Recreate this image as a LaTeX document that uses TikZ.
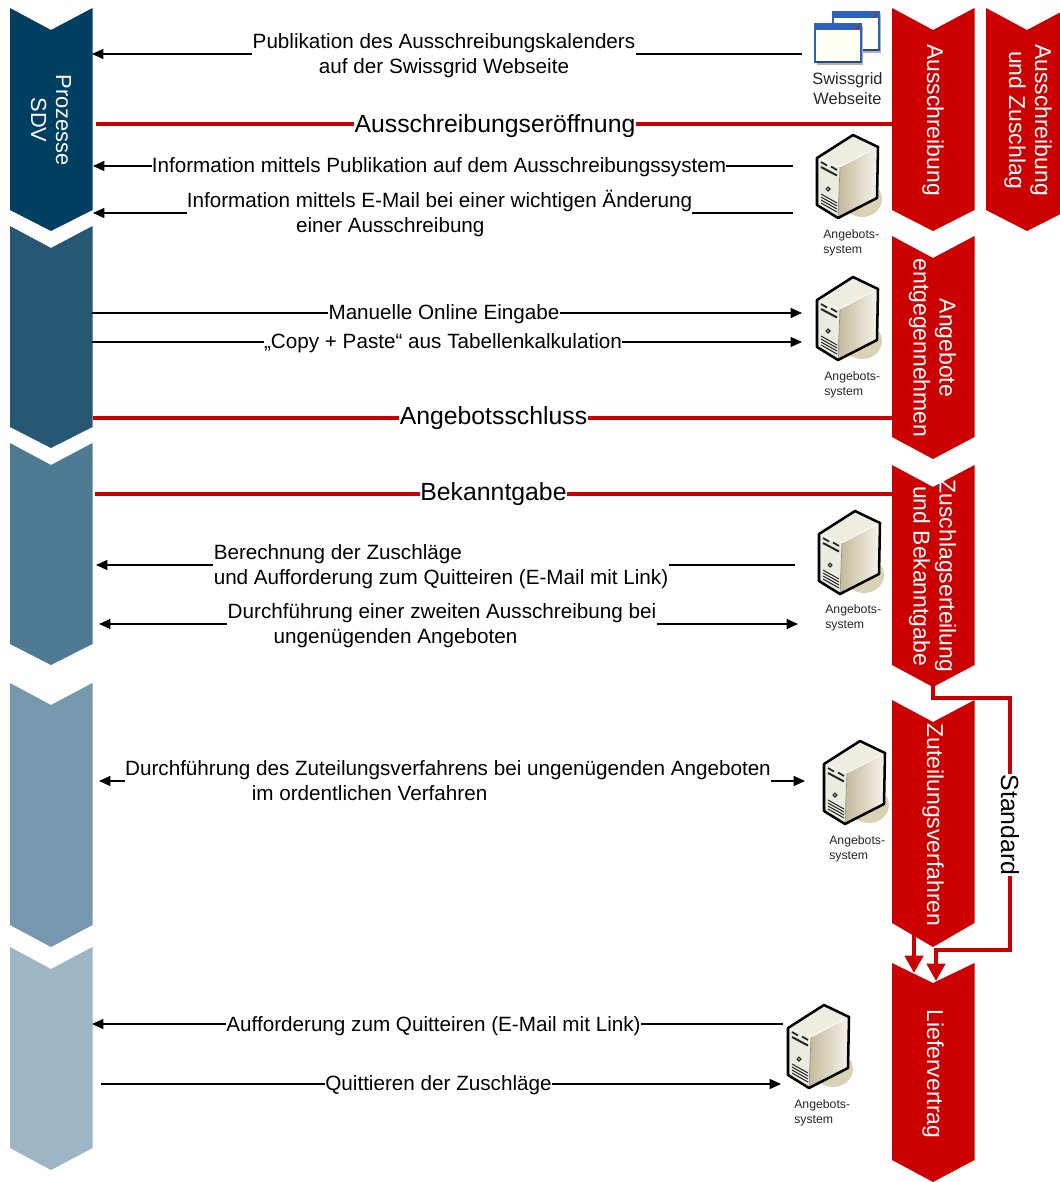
\documentclass[tikz,border=0pt]{standalone}
\usepackage{fontspec}
\setmainfont{Liberation Sans}
\usetikzlibrary{arrows.meta,calc}
\definecolor{sgred}{HTML}{CC0000}
\definecolor{blueA}{HTML}{003F62}
\definecolor{blueB}{HTML}{265775}
\definecolor{blueC}{HTML}{4E7A94}
\definecolor{blueD}{HTML}{7598AE}
\definecolor{blueE}{HTML}{9DB5C4}
\definecolor{srvTop}{HTML}{EFEDE2}
\definecolor{srvFront}{HTML}{E9ECDF}
\definecolor{srvTan}{HTML}{C4B99B}
\definecolor{srvLight}{HTML}{F6F3EA}
\definecolor{srvShadow}{HTML}{DAD2B5}
\definecolor{winBlue}{HTML}{2A62BC}
\definecolor{winDark}{HTML}{24488F}
\definecolor{winBody}{HTML}{FFFFF4}
\newcommand{\chevshape}[6]{\fill[#6] (#1,#2) -- (#1+41,#3) -- (#1+82.5,#2) -- (#1+82.5,#4) -- (#1+41,#5) -- (#1,#4) -- cycle;}
\newcommand{\windowicon}[2]{%
  \begin{scope}[shift={(#1,#2)}]
    \fill[black!30] (2,2) rectangle (48,41);
    \fill[winBody] (0,0) rectangle (46,38);
    \draw[winBlue,line width=.9pt] (0,0) rectangle (46,38);
    \fill[winBlue] (0,0) rectangle (46,6);
    \fill[winDark] (0,36.5) rectangle (46,39);
    \fill[red!55!black!80] (40,1.5) rectangle (44,4.5);
  \end{scope}}
\tikzset{
  msg/.style={font=\fontsize{15.5}{18.75}\selectfont,inner sep=0pt,align=left},
  big/.style={font=\fontsize{18.6}{22}\selectfont,inner sep=0pt},
  chevlabel/.style={font=\fontsize{17.2}{19.5}\selectfont,white,rotate=-90,align=center,inner sep=0pt},
  small/.style={font=\fontsize{9.2}{11.3}\selectfont,align=left,inner sep=0pt,anchor=north west,text=black!85},
  thin arrow/.style={line width=.8pt,-{Triangle[length=8.5pt,width=7.5pt]}},
  plain/.style={line width=.8pt},
  redline/.style={draw=sgred,line width=3pt},
  flowline/.style={draw=sgred,line width=3.6pt},
  redarrow/.style={draw=sgred,line width=3.6pt,-{Triangle[length=13pt,width=13.5pt]}},
  serverpic/.pic={
    \fill[srvShadow] (46,64) ellipse (20 and 18);
    \shade[shading angle=60,left color=srvTan,right color=srvLight] (24,32) -- (62,12) -- (61,63) -- (22,83) -- cycle;
    \fill[srvTop] (1,23) -- (37,0) -- (62,12) -- (24,32) -- cycle;
    \fill[srvFront] (1,23) -- (24,32) -- (22,83) -- (1,70) -- cycle;
    \draw[line width=.5pt,white] (1,23) -- (24,32) -- (62,12);
    \draw[line width=.5pt,black!45] (24,32) -- (22,83);
    \draw[line width=1.9pt,line join=round] (37,0) -- (62,12) -- (61,63) -- (22,83) -- (1,70) -- (1,23) -- cycle;
    \draw[line width=1.3pt,black!85] (5,27) -- (11,30.5) (15,31.5) -- (21,35);
    \draw[line width=1.5pt,black!85] (5,32) -- (21,40.5);
    \draw[line width=.9pt,black!85,fill=srvTop] (12,54) circle (1.9);
    \draw[line width=.75pt,black!85] (5,62) -- (21,71) (5,65) -- (21,74) (5,68) -- (21,77) (5,59) -- (21,68);
  }
}
\begin{document}
\begin{tikzpicture}[x=0.75pt,y=-0.75pt]
\useasboundingbox (0,0) rectangle (1060,1182);
\clip (0,0) rectangle (1060,1182);
% chevrons left
\chevshape{10}{8}{30}{210}{231}{blueA}
\chevshape{10}{226}{248}{427}{448}{blueB}
\chevshape{10}{443}{465}{644}{665}{blueC}
\chevshape{10}{683}{705}{925}{947}{blueD}
\chevshape{10}{947}{969}{1148}{1170}{blueE}
% chevrons right
\chevshape{892}{8}{30}{210}{231}{sgred}
\chevshape{892}{236}{258}{437}{459}{sgred}
\chevshape{892}{465}{487}{665}{687}{sgred}
\chevshape{892}{700}{722}{923}{947}{sgred}
\chevshape{892}{963}{983}{1160}{1182}{sgred}
\chevshape{986}{8}{30}{210}{231}{sgred}
% chevron labels
\node[chevlabel,font=\fontsize{16.4}{18.75}\selectfont] (cp) at (51,120) {Prozesse\\SDV};
\node[chevlabel] (c1) at (933,120) {Ausschreibung};
\node[chevlabel] (c2) at (1028,120) {Ausschreibung\\und Zuschlag};
\node[chevlabel] (c3) at (932.5,348) {Angebote\\entgegennehmen};
\node[chevlabel] (c4) at (932.5,576) {Zuschlagserteilung\\und Bekanntgabe};
\node[chevlabel] (c5) at (933,825) {Zuteilungsverfahren};
\node[chevlabel] (c6) at (933,1074) {Liefervertrag};
% icons
\windowicon{833}{12}
\windowicon{815}{24}
\node[font=\fontsize{12.3}{15}\selectfont,align=center,inner sep=0pt,text=black!85] (web) at (847.5,89) {Swissgrid\\Webseite};
\pic at (816,135) {serverpic};
\pic at (816,277) {serverpic};
\pic at (818,511) {serverpic};
\pic at (823,741) {serverpic};
\pic at (787,1005) {serverpic};
\node[small] (s1) at (823,229.5) {Angebots-\\system};
\node[small] (s2) at (824,371.5) {Angebots-\\system};
\node[small] (s3) at (825,604.5) {Angebots-\\system};
\node[small] (s4) at (829,835.5) {Angebots-\\system};
\node[small] (s5) at (794,1099.5) {Angebots-\\system};
% end points
\coordinate (a1) at (92,54);   \coordinate (b1) at (802,54);
\coordinate (a2) at (96,124);  \coordinate (b2) at (892,124);
\coordinate (a3) at (93,166);  \coordinate (b3) at (793,166);
\coordinate (a4) at (93,213);  \coordinate (b4) at (793,213);
\coordinate (a5) at (92,313);  \coordinate (b5) at (802,313);
\coordinate (a6) at (92,342);  \coordinate (b6) at (802,342);
\coordinate (a7) at (93,418);  \coordinate (b7) at (892,418);
\coordinate (a8) at (95,494);  \coordinate (b8) at (892,494);
\coordinate (a9) at (96,565);  \coordinate (b9) at (795,565);
\coordinate (a10) at (99,624); \coordinate (b10) at (798,624);
\coordinate (a11) at (99,781); \coordinate (b11) at (805,781);
\coordinate (a12) at (92,1024);\coordinate (b12) at (783,1024);
\coordinate (a13) at (101,1084);\coordinate (b13) at (781,1084);
% labels
\node[msg,align=center] (t1) at (444,56) {Publikation des Ausschreibungskalenders\\auf der Swissgrid Webseite};
\node[big] (t2) at (495,126) {Ausschreibungseröffnung};
\node[msg] (t3) at (439,167.5) {Information mittels Publikation auf dem Ausschreibungssystem};
\node[msg] (t4) at (439.5,213) {Information mittels E-Mail bei einer wichtigen Änderung\\\hspace*{82pt}einer Ausschreibung};
\node[msg] (t5) at (444,314) {Manuelle Online Eingabe};
\node[msg] (t6) at (443,343.5) {„Copy + Paste“ aus Tabellenkalkulation};
\node[big] (t7) at (493.5,418.5) {Angebotsschluss};
\node[big] (t8) at (493.5,494.5) {Bekanntgabe};
\node[msg] (t9) at (441,567) {Berechnung der Zuschläge\\und Aufforderung zum Quitteiren (E-Mail mit Link)};
\node[msg] (t10) at (442,626) {Durchführung einer zweiten Ausschreibung bei\\\hspace*{34.5pt}ungenügenden Angeboten};
\node[msg] (t11) at (448,781) {Durchführung des Zuteilungsverfahrens bei ungenügenden Angeboten\\\hspace*{95pt}im ordentlichen Verfahren};
\node[msg] (t12) at (433.5,1026) {Aufforderung zum Quitteiren (E-Mail mit Link)};
\node[msg] (t13) at (438.5,1085) {Quittieren der Zuschläge};
% connectors
\draw[thin arrow] (t1.west |- a1) -- (a1);
\draw[plain] (t1.east |- b1) -- (b1);
\draw[redline] (a2) -- (t2.west |- a2);
\draw[redline] (t2.east |- b2) -- (b2);
\draw[thin arrow] (t3.west |- a3) -- (a3);
\draw[plain] (t3.east |- b3) -- (b3);
\draw[thin arrow] (t4.west |- a4) -- (a4);
\draw[plain] (t4.east |- b4) -- (b4);
\draw[plain] (a5) -- (t5.west |- a5);
\draw[thin arrow] (t5.east |- b5) -- (b5);
\draw[plain] (a6) -- (t6.west |- a6);
\draw[thin arrow] (t6.east |- b6) -- (b6);
\draw[redline] (a7) -- (t7.west |- a7);
\draw[redline] (t7.east |- b7) -- (b7);
\draw[redline] (a8) -- (t8.west |- a8);
\draw[redline] (t8.east |- b8) -- (b8);
\draw[thin arrow] (t9.west |- a9) -- (a9);
\draw[plain] (t9.east |- b9) -- (b9);
\draw[thin arrow] (t10.west |- a10) -- (a10);
\draw[thin arrow] (t10.east |- b10) -- (b10);
\draw[thin arrow] (t11.west |- a11) -- (a11);
\draw[thin arrow] (t11.east |- b11) -- (b11);
\draw[thin arrow] (t12.west |- a12) -- (a12);
\draw[plain] (t12.east |- b12) -- (b12);
\draw[plain] (a13) -- (t13.west |- a13);
\draw[thin arrow] (t13.east |- b13) -- (b13);
% red flow
\coordinate (f0) at (933,686);
\coordinate (f1) at (914,933);
\coordinate (f2) at (914,973);
\coordinate (f3) at (936,981);
\node[font=\fontsize{18.6}{22}\selectfont,rotate=-90,inner sep=0pt] (std) at (1010,825) {Standard};
\draw[flowline,line join=miter] (f0) -- (933,698) -| (std.west);
\draw[redarrow,line join=miter] (std.east) |- (936,950) -- (f3);
\draw[redarrow] (f1) -- (f2);
\end{tikzpicture}
\end{document}
